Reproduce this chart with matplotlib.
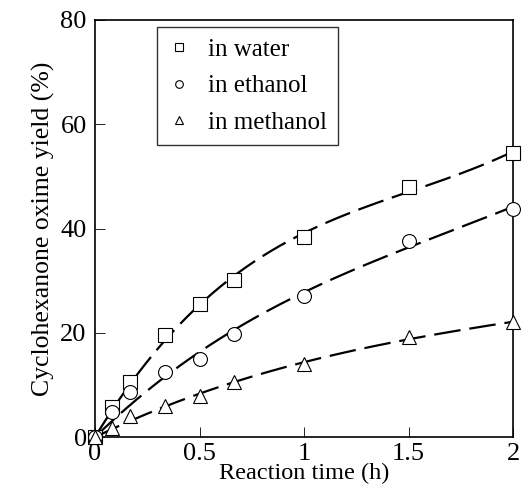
import matplotlib
matplotlib.use("Agg")
import matplotlib.pyplot as plt
import numpy as np

plt.rc('font', family='serif', serif=['Liberation Serif', 'DejaVu Serif'])

t = [0, 1/12, 1/6, 1/3, 0.5, 2/3, 1, 1.5, 2]
water = [0, 5.7, 10.5, 19.6, 25.5, 30.1, 38.3, 48.0, 54.5]
ethanol = [0, 4.8, 8.7, 12.5, 15.0, 19.7, 27.0, 37.7, 43.8]
methanol = [0, 1.8, 4.1, 6.0, 7.9, 10.5, 14.0, 19.2, 22.0]

series = [(water, 's', 'in water'),
          (ethanol, 'o', 'in ethanol'),
          (methanol, '^', 'in methanol')]

fig = plt.figure(figsize=(5.22, 4.99), dpi=100)
ax = fig.add_axes([0.182, 0.124, 0.801, 0.836])

tt = np.linspace(0, 2, 200)
for y, m, lab in series:
    # smooth fit curve, forced through the origin
    A = np.vstack([np.asarray(t), np.asarray(t)**2, np.asarray(t)**3]).T
    c, *_ = np.linalg.lstsq(A, np.asarray(y), rcond=None)
    fit = c[0]*tt + c[1]*tt**2 + c[2]*tt**3
    ax.plot(tt, fit, color='black', lw=1.6, dashes=(12, 4), zorder=2)
    ax.plot(t, y, linestyle='none', marker=m, ms=10 if m != '^' else 10.5,
            mfc='white', mec='black', mew=0.8, label=lab, zorder=3,
            clip_on=False)

ax.set_xlim(0, 2)
ax.set_ylim(0, 80)
ax.set_xticks([0, 0.5, 1, 1.5, 2])
ax.set_xticklabels(['0', '0.5', '1', '1.5', '2'])
ax.set_yticks([0, 20, 40, 60, 80])
ax.tick_params(direction='in', length=7, width=0.6, labelsize=19, pad=6)
ax.tick_params(axis='x', pad=4)
for s in ax.spines.values():
    s.set_linewidth(1.2)
ax.set_xlabel('Reaction time (h)', fontsize=17.5, labelpad=-1)
ax.set_ylabel('Cyclohexanone oxime yield (%)', fontsize=18.5, labelpad=4)

leg = ax.legend(loc='upper left', bbox_to_anchor=(0.148, 0.982), fontsize=18,
                markerscale=0.55, frameon=True, fancybox=False,
                edgecolor='black', handlelength=0.9, handletextpad=0.7,
                borderpad=0.45, labelspacing=0.55, borderaxespad=0)
leg.get_frame().set_linewidth(1.0)

fig.savefig('out.png', dpi=100)
